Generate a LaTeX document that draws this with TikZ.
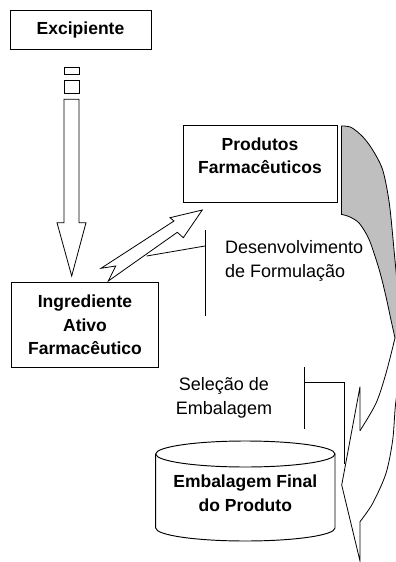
\documentclass[tikz,border=0pt]{standalone}
\usepackage{fontspec}
\setmainfont{Liberation Sans}
\begin{document}
\begin{tikzpicture}[x=1pt,y=-1pt,
  box/.style={draw, line width=0.95pt, inner sep=0pt},
  shp/.style={draw, line width=0.8pt, line join=miter},
  btxt/.style={font=\fontsize{17.5}{23.5}\selectfont\bfseries, align=center, inner sep=0pt},
  rtxt/.style={font=\fontsize{18}{24.3}\selectfont, inner sep=0pt},
  lbl/.style={line width=0.8pt}]
\useasboundingbox (0,0) rectangle (396,562);
\fill[white] (0,0) rectangle (396,562);
% boxes
\node[box, minimum width=141pt, minimum height=38.3pt] (excbox) at (80.5,29.85) {};
\node[btxt] (exc) at (80.5,30) {Excipiente};
\node[box, minimum width=154pt, minimum height=77pt] (probox) at (260,163.5) {};
\node[btxt] (pro) at (260,155.5) {Produtos\\Farmacêuticos};
\node[box, minimum width=147pt, minimum height=85pt] (ingbox) at (84.5,324.5) {};
\node[btxt] (ing) at (85,325) {Ingrediente\\Ativo\\Farmacêutico};
% cylinder
\draw[box, fill=white] (155.7,454) -- (155.7,528) arc[start angle=180, end angle=360, x radius=89.65pt, y radius=13pt] -- (335,454);
\draw[box] (245.35,454) ellipse[x radius=89.65pt, y radius=13pt];
\node[btxt] (emb) at (245.3,493.3) {Embalagem Final\\do Produto};
% dashed-style block arrow
\draw[shp] (64,67.7) rectangle (79,74);
\draw[shp] (64,80) rectangle (79,93.3);
\draw[shp] (64,99.3) -- (64,222.7) -- (57,222.7) -- (71.7,276) -- (86,222.7) -- (79,222.7) -- (79,99.3) -- cycle;
% zigzag arrow
\draw[shp, fill=white] (101,268.3) -- (174,221) -- (170,217.7) -- (202.3,210) -- (183.3,237.7) -- (177.3,232.3) -- (108.3,281) -- (115.7,266) -- cycle;
% callouts
\draw[lbl] (146.7,256) -- (205,246);
\draw[lbl] (205,230) -- (205,316);
\node[rtxt, align=left, anchor=west] (dev) at (225,261) {Desenvolvimento\\de Formulação};
\draw[lbl] (304,367) -- (304,429);
\draw[lbl] (304,382.7) -- (344.5,382.7) -- (344.5,463.5);
\node[rtxt, align=center] (sel) at (224,397.5) {Seleção de\\Embalagem};
% curved arrow
\begin{scope}
\clip (0,0) rectangle (396,562);
\fill[gray!50] plot[smooth] coordinates {(341,126) (351,127.3) (362.7,136.7) (372.7,150) (382.7,170) (389.3,203.3) (394.3,253) (398.5,300) (400,340)}
  -- (395,338) -- plot[smooth] coordinates {(395,338) (391,320) (386,296.7) (379.3,270) (369.3,240) (359.3,223.3) (349.3,216.7) (341,214.3)} -- cycle;
\draw[shp] (341,214.3) -- (341,126);
\draw[shp] plot[smooth] coordinates {(341,126) (351,127.3) (362.7,136.7) (372.7,150) (382.7,170) (389.3,203.3) (394.3,253) (398.5,300) (400,340)};
\draw[shp] plot[smooth] coordinates {(400,340) (399,375) (395.3,406.7) (392.7,440) (386,473.3) (372.7,503.3) (360,521.7)};
\draw[shp] plot[smooth] coordinates {(341,214.3) (349.3,216.7) (359.3,223.3) (369.3,240) (379.3,270) (386,296.7) (391,320) (395,338)};
\draw[shp] plot[smooth] coordinates {(395,338) (386,373.3) (376,403.3) (360,430.7)};
\draw[shp] (360,430.7) -- (360,386.7) -- (341.7,485) -- (360,561) -- (360,521.7);
\end{scope}
\end{tikzpicture}
\end{document}
